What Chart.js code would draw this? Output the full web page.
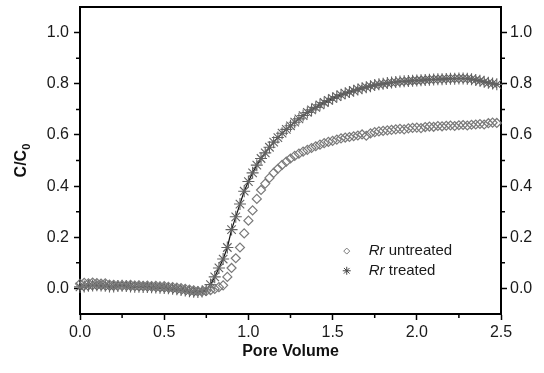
<!DOCTYPE html>
<html>
<head>
<meta charset="utf-8">
<script src="https://cdn.jsdelivr.net/npm/chart.js@4.4.1/dist/chart.umd.min.js"></script>
<style>
  body { margin: 0; background: #fff; }
  #wrap { width: 544px; height: 373px; }
</style>
</head>
<body>
<div id="wrap"><canvas id="breakthrough" width="544" height="373"></canvas></div>
<script>
// ---------------------------------------------- data ----------------------------------------------
var poreVolume = [
  0.000, 0.025, 0.050, 0.075, 0.100, 0.125, 0.150, 0.175, 0.200, 0.225,
  0.250, 0.275, 0.300, 0.325, 0.350, 0.375, 0.400, 0.425, 0.450, 0.475,
  0.500, 0.525, 0.550, 0.575, 0.600, 0.625, 0.650, 0.675, 0.700, 0.725,
  0.750, 0.775, 0.800, 0.825, 0.850, 0.875, 0.900, 0.925, 0.950, 0.975,
  1.000, 1.025, 1.050, 1.075, 1.100, 1.125, 1.150, 1.175, 1.200, 1.225,
  1.250, 1.275, 1.300, 1.325, 1.350, 1.375, 1.400, 1.425, 1.450, 1.475,
  1.500, 1.525, 1.550, 1.575, 1.600, 1.625, 1.650, 1.675, 1.700, 1.725,
  1.750, 1.775, 1.800, 1.825, 1.850, 1.875, 1.900, 1.925, 1.950, 1.975,
  2.000, 2.025, 2.050, 2.075, 2.100, 2.125, 2.150, 2.175, 2.200, 2.225,
  2.250, 2.275, 2.300, 2.325, 2.350, 2.375, 2.400, 2.425, 2.450, 2.475
];
var untreated = [
  0.018, 0.022, 0.020, 0.023, 0.021, 0.019, 0.020, 0.015, 0.014, 0.012,
  0.013, 0.012, 0.014, 0.011, 0.012, 0.010, 0.011, 0.009, 0.010, 0.008,
  0.009, 0.006, 0.005, 0.003, 0.001, -0.002, -0.005, -0.008, -0.010, -0.012,
  -0.010, -0.007, -0.002, 0.005, 0.012, 0.045, 0.080, 0.118, 0.160, 0.215,
  0.265, 0.305, 0.350, 0.385, 0.410, 0.432, 0.452, 0.468, 0.483, 0.496,
  0.508, 0.518, 0.527, 0.535, 0.542, 0.549, 0.556, 0.562, 0.568, 0.573,
  0.577, 0.582, 0.587, 0.590, 0.592, 0.595, 0.598, 0.602, 0.597, 0.606,
  0.611, 0.614, 0.616, 0.618, 0.620, 0.622, 0.624, 0.622, 0.626, 0.628,
  0.629, 0.627, 0.631, 0.633, 0.632, 0.635, 0.634, 0.636, 0.637, 0.635,
  0.638, 0.639, 0.637, 0.640, 0.641, 0.643, 0.641, 0.646, 0.648, 0.647
];
var treated = [
  0.006, 0.008, 0.010, 0.011, 0.012, 0.011, 0.010, 0.008, 0.008, 0.009,
  0.010, 0.009, 0.008, 0.007, 0.007, 0.006, 0.006, 0.005, 0.004, 0.003,
  0.002, 0.001, -0.001, -0.003, -0.006, -0.008, -0.011, -0.013, -0.014, -0.012,
  -0.006, 0.015, 0.045, 0.080, 0.115, 0.160, 0.230, 0.280, 0.330, 0.380,
  0.418, 0.452, 0.482, 0.508, 0.530, 0.552, 0.572, 0.590, 0.607, 0.622,
  0.636, 0.650, 0.663, 0.676, 0.688, 0.698, 0.708, 0.718, 0.727, 0.735,
  0.743, 0.750, 0.757, 0.763, 0.768, 0.773, 0.778, 0.783, 0.787, 0.791,
  0.795, 0.798, 0.800, 0.803, 0.805, 0.807, 0.809, 0.810, 0.811, 0.812,
  0.813, 0.814, 0.815, 0.816, 0.817, 0.818, 0.818, 0.819, 0.820, 0.820,
  0.821, 0.821, 0.820, 0.818, 0.815, 0.812, 0.808, 0.804, 0.801, 0.798
];
var seriesLabels = ['Rr untreated', 'Rr treated'];
var xTicks = [0.0, 0.5, 1.0, 1.5, 2.0, 2.5];
var yTicks = [0.0, 0.2, 0.4, 0.6, 0.8, 1.0];
var xMinorTicks = [0.25, 0.75, 1.25, 1.75, 2.25];
var yMinorTicks = [0.1, 0.3, 0.5, 0.7, 0.9];
var xTitle = 'Pore Volume';

var FONT = '"Liberation Sans", Arial, sans-serif';

function points(ys) {
  return poreVolume.map(function(x, i) { return { x: x, y: ys[i] }; });
}

// ---------------------------------------------- extra drawing ----------------------------------------------
function drawDiamond(ctx, x, y, r) {
  ctx.beginPath();
  ctx.moveTo(x, y - r); ctx.lineTo(x + r, y); ctx.lineTo(x, y + r); ctx.lineTo(x - r, y);
  ctx.closePath(); ctx.stroke();
}
function drawStar(ctx, x, y, r) {
  var d = r * Math.SQRT1_2;
  ctx.beginPath();
  ctx.moveTo(x - r, y); ctx.lineTo(x + r, y);
  ctx.moveTo(x, y - r); ctx.lineTo(x, y + r);
  ctx.moveTo(x - d, y - d); ctx.lineTo(x + d, y + d);
  ctx.moveTo(x - d, y + d); ctx.lineTo(x + d, y - d);
  ctx.stroke();
}

var extras = {
  id: 'extras',
  afterDraw: function(chart) {
    var ctx = chart.ctx, a = chart.chartArea;
    var sx = chart.scales.x, sy = chart.scales.y;
    ctx.save();
    ctx.strokeStyle = '#000';
    // top frame
    ctx.lineWidth = 2;
    ctx.beginPath(); ctx.moveTo(a.left - 1, a.top); ctx.lineTo(a.right + 1, a.top); ctx.stroke();
    // minor ticks
    ctx.lineWidth = 1.5;
    ctx.beginPath();
    xMinorTicks.forEach(function(v) {
      var px = sx.getPixelForValue(v);
      ctx.moveTo(px, a.bottom); ctx.lineTo(px, a.bottom + 4);
    });
    yMinorTicks.forEach(function(v) {
      var py = sy.getPixelForValue(v);
      ctx.moveTo(a.left - 4, py); ctx.lineTo(a.left, py);
      ctx.moveTo(a.right, py); ctx.lineTo(a.right + 4, py);
    });
    ctx.stroke();

    // x title
    ctx.fillStyle = '#111';
    ctx.font = 'bold 16px ' + FONT;
    ctx.textAlign = 'center';
    ctx.textBaseline = 'middle';
    ctx.fillText(xTitle, (a.left + a.right) / 2, 352);

    // y title C/C0
    ctx.save();
    ctx.translate(22, (a.top + a.bottom) / 2);
    ctx.rotate(-Math.PI / 2);
    ctx.font = 'bold 16px ' + FONT;
    var w1 = ctx.measureText('C/C').width;
    ctx.font = 'bold 11px ' + FONT;
    var w2 = ctx.measureText('0').width;
    var sx0 = -(w1 + w2) / 2;
    ctx.textAlign = 'left';
    ctx.font = 'bold 16px ' + FONT;
    ctx.fillText('C/C', sx0, 0);
    ctx.font = 'bold 11px ' + FONT;
    ctx.fillText('0', sx0 + w1, 5);
    ctx.restore();

    // legend
    var lx = sx.getPixelForValue(1.584);
    var rows = [sy.getPixelForValue(0.146), sy.getPixelForValue(0.069)];
    ctx.lineWidth = 1;
    ctx.strokeStyle = '#777';
    drawDiamond(ctx, lx, rows[0], 3);
    ctx.strokeStyle = '#444';
    drawStar(ctx, lx, rows[1], 4);
    ctx.fillStyle = '#1a1a1a';
    ctx.textAlign = 'left';
    seriesLabels.forEach(function(lbl, i) {
      var parts = lbl.split(' ');
      var tx = lx + 22;
      ctx.font = 'italic 15px ' + FONT;
      ctx.fillText(parts[0], tx, rows[i]);
      tx += ctx.measureText(parts[0] + ' ').width;
      ctx.font = '15px ' + FONT;
      ctx.fillText(parts.slice(1).join(' '), tx, rows[i]);
    });
    ctx.restore();
  }
};

// ---------------------------------------------- chart ----------------------------------------------
function tickOpts() {
  return {
    font: { family: FONT, size: 16 },
    color: '#1a1a1a',
    autoSkip: false,
    maxRotation: 0,
    callback: function(v) { return v.toFixed(1); }
  };
}

var ctx = document.getElementById('breakthrough').getContext('2d');
var chart = new Chart(ctx, {
  type: 'scatter',
  data: {
    datasets: [{
      label: seriesLabels[0],
      data: points(untreated),
      showLine: false,
      pointStyle: 'rectRot',
      pointRadius: 4.5,
      pointBorderWidth: 1.2,
      pointBorderColor: '#7a7a7a',
      pointBackgroundColor: 'rgba(0,0,0,0)',
      clip: false
    }, {
      label: seriesLabels[1],
      data: points(treated),
      showLine: true,
      borderColor: '#111',
      borderWidth: 1.2,
      pointStyle: 'star',
      pointRadius: 6,
      pointBorderWidth: 1.1,
      pointBorderColor: '#626262',
      pointBackgroundColor: 'rgba(0,0,0,0)',
      clip: false
    }]
  },
  options: {
    responsive: false,
    animation: false,
    layout: { padding: { top: 7, left: 0, right: 0, bottom: 0 } },
    plugins: { legend: { display: false }, tooltip: { enabled: false } },
    scales: {
      x: {
        type: 'linear', position: 'bottom', min: 0, max: 2.5,
        afterBuildTicks: function(s) { s.ticks = xTicks.map(function(v) { return { value: v }; }); },
        afterFit: function(s) { s.height = 59; s.paddingLeft = 0; s.paddingRight = 0; },
        ticks: Object.assign(tickOpts(), { padding: 3 }),
        grid: { drawOnChartArea: false, drawTicks: true, tickLength: 6, tickWidth: 1.5, tickColor: '#000' },
        border: { color: '#000', width: 2 }
      },
      y: {
        type: 'linear', position: 'left', min: -0.1, max: 1.1,
        afterBuildTicks: function(s) { s.ticks = yTicks.map(function(v) { return { value: v }; }); },
        afterFit: function(s) { s.width = 80; s.paddingTop = 0; s.paddingBottom = 0; },
        ticks: Object.assign(tickOpts(), { padding: 5 }),
        grid: { drawOnChartArea: false, drawTicks: true, tickLength: 6, tickWidth: 1.5, tickColor: '#000' },
        border: { color: '#000', width: 2 }
      },
      y2: {
        type: 'linear', position: 'right', min: -0.1, max: 1.1,
        afterBuildTicks: function(s) { s.ticks = yTicks.map(function(v) { return { value: v }; }); },
        afterFit: function(s) { s.width = 43; s.paddingTop = 0; s.paddingBottom = 0; },
        ticks: Object.assign(tickOpts(), { padding: 3 }),
        grid: { drawOnChartArea: false, drawTicks: true, tickLength: 6, tickWidth: 1.5, tickColor: '#000' },
        border: { color: '#000', width: 2 }
      }
    }
  },
  plugins: [extras]
});
</script>
</body>
</html>
